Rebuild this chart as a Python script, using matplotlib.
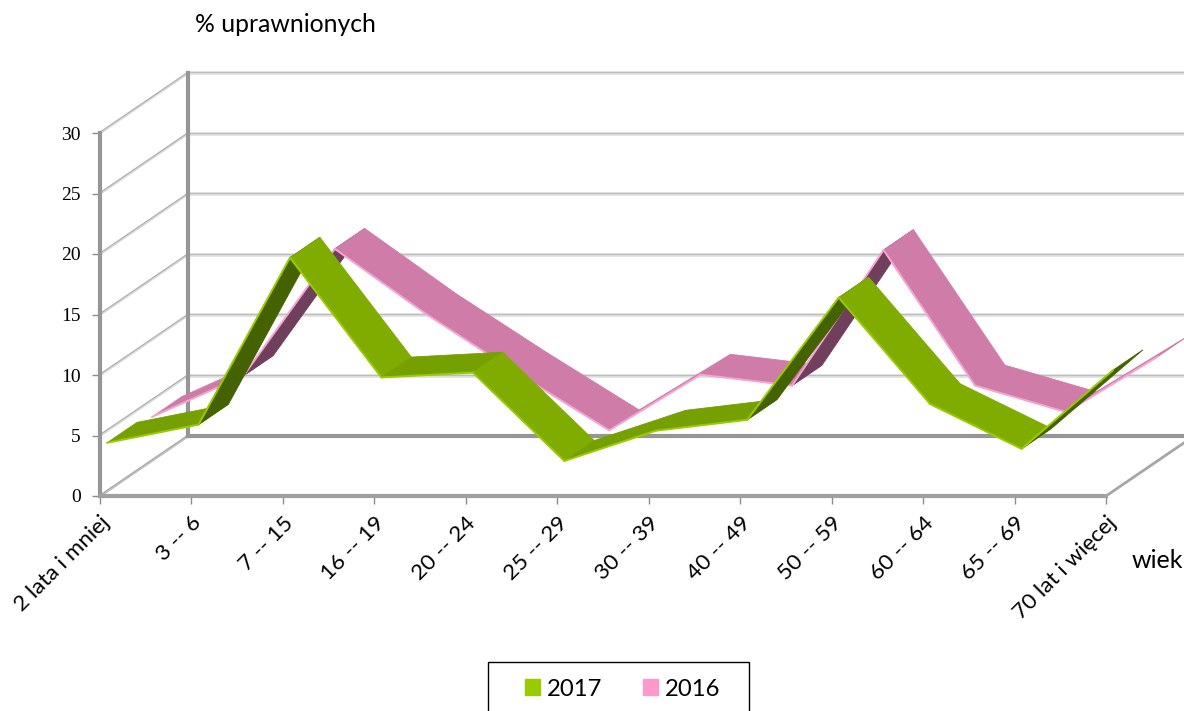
import matplotlib
matplotlib.use('Agg')
import matplotlib.pyplot as plt
from matplotlib.patches import Patch, Rectangle

# data
wiek = ['2 lata i mniej', '3 -- 6', '7 -- 15', '16 -- 19', '20 -- 24', '25 -- 29',
        '30 -- 39', '40 -- 49', '50 -- 59', '60 -- 64', '65 -- 69', '70 lat i więcej']
v2017 = [4.0, 5.5, 19.3, 9.4, 9.8, 2.5, 5.0, 5.9, 16.0, 7.2, 3.5, 10.0]
v2016 = [3.6, 7.0, 17.5, 12.1, 7.2, 2.5, 7.1, 6.2, 17.4, 6.2, 4.0, 8.6]
y_ticks = [0, 5, 10, 15, 20, 25, 30]

W, H = 1184, 711
GREY = '#969696'
LIGHT = '#DEDEDE'
SANS = 'Lato'

# oblique depth of the 3d box, in data units
DX = 88 / 91.45
DY = 60 / 12.1


def project(i, v, d):
    return i + d * DX, v + d * DY


def ribbon(ax, vals, d0, d1, top, flat, under, edge, z):
    n = len(vals)
    for i in range(n - 1):
        x0, y0 = project(i, vals[i], d0)
        x1, y1 = project(i + 1, vals[i + 1], d0)
        x2, y2 = project(i + 1, vals[i + 1], d1)
        x3, y3 = project(i, vals[i], d1)
        # which side of the band faces us
        cross = (x1 - x0) * (y3 - y0) - (y1 - y0) * (x3 - x0)
        if cross < 0:
            col = under
        elif y1 > y0:
            col = flat
        else:
            col = top
        ax.fill([x0, x1, x2, x3], [y0, y1, y2, y3], facecolor=col, edgecolor=col,
                lw=0.6, clip_on=False, zorder=z)
        ax.plot([x0, x1], [y0, y1], color=edge, lw=1.4, clip_on=False,
                solid_capstyle='round', zorder=z + 0.5)
        z += 1
    return z


fig = plt.figure(figsize=(W / 100, H / 100), dpi=100)
ax = fig.add_axes([100 / W, 1 - 496 / H, 1006 / W, 363 / H])
ax.set_xlim(0, 11)
ax.set_ylim(0, 30)
ax.patch.set_visible(False)
for s in ax.spines.values():
    s.set_visible(False)

# walls
for v in y_ticks:
    x0, y0 = project(0, v, 1)
    x1, y1 = project(11, v, 1)
    if v == 0:
        ax.plot([x0, x1], [y0, y1], color=GREY, lw=3, clip_on=False, zorder=1)
    else:
        ax.plot([x0, x1], [y0, y1], color=LIGHT, lw=2.6, clip_on=False, zorder=1)
        ax.plot([x0, x1], [y0 + 0.08, y1 + 0.08], color='#BDBDBD', lw=0.8, clip_on=False, zorder=1)
    ax.plot([0, x0], [v, y0], color='#DADADA' if v else '#C0C0C0', lw=2, clip_on=False, zorder=1)
    ax.plot([0, x0], [v + 0.06, y0 + 0.06], color='#ABABAB', lw=0.7, clip_on=False, zorder=1)
ax.plot([0, 0], [0, 30], color=GREY, lw=3, clip_on=False, zorder=2)
ax.plot([DX, DX], [DY, 30 + DY], color=GREY, lw=3, clip_on=False, zorder=2)
ax.plot([0, 11], [0, 0], color='#A0A0A0', lw=3, clip_on=False, zorder=2)
ax.plot([11, 11 + DX], [0, DY], color='#A6A6A6', lw=2, clip_on=False, zorder=2)

# the two bands, 2016 stands behind 2017
z = ribbon(ax, v2016, 0.59, 0.93, '#D07CA9', '#CE7BA7', '#6F3F5C', '#F5A6D3', 3)
ribbon(ax, v2017, 0.08, 0.42, '#80AC00', '#74A000', '#456200', '#9BCB00', z)

ax.set_xticks(range(len(wiek)))
ax.set_xticklabels(wiek, rotation=45, ha='right', va='top', rotation_mode='anchor',
                   fontsize=16.2, family=SANS)
ax.set_yticks(y_ticks)
ax.set_yticklabels([str(v) for v in y_ticks], fontsize=14, family='Liberation Serif')
ax.tick_params(axis='both', length=6, width=1, color='#8C8C8C', pad=8)
ax.tick_params(axis='x', pad=6)

fig.text(195 / W, 1 - 25 / H, '% uprawnionych', fontsize=17.8, family=SANS, va='center')
fig.text(1132 / W, 1 - 560 / H, 'wiek', fontsize=18, family=SANS, va='center')

# legend, frame runs off the bottom of the picture
fig.add_artist(Rectangle((487.5 / W, -0.02), 261 / W, (711 - 662) / H + 0.02, transform=fig.transFigure,
                         facecolor='white', edgecolor='black', lw=1))
handles = [Patch(color='#99CC00', label='2017'), Patch(color='#FF99CC', label='2016')]
fig.legend(handles=handles, ncol=2, frameon=False, loc='center', bbox_to_anchor=(623 / W, 1 - 689 / H),
           prop={'family': SANS, 'size': 17.2}, handlelength=0.62, handleheight=0.62, handletextpad=0.3,
           columnspacing=1.7)

fig.savefig('out.png', dpi=100)
